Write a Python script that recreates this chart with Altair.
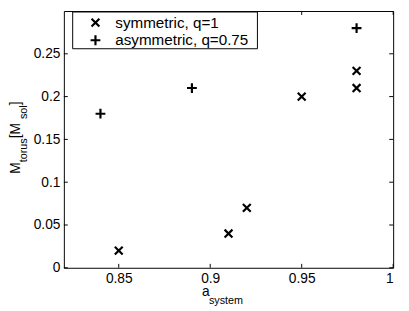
import altair as alt
import pandas as pd

# ---- data ----
series = ["symmetric, q=1", "asymmetric, q=0.75"]
sym_a = [0.85, 0.91, 0.92, 0.95, 0.98, 0.98]
sym_m = [0.02, 0.04, 0.07, 0.20, 0.23, 0.21]
asym_a = [0.84, 0.89, 0.98]
asym_m = [0.18, 0.21, 0.28]
x_ticks = [0.85, 0.9, 0.95, 1.0]
y_ticks = [0, 0.05, 0.1, 0.15, 0.2, 0.25]

W, H = 336, 262
FONT = "Liberation Sans"
TL = 4  # inward tick length

df = pd.DataFrame({
    "a": sym_a + asym_a,
    "m": sym_m + asym_m,
    "series": [series[0]] * len(sym_a) + [series[1]] * len(asym_a),
})
xt = pd.DataFrame({"a": x_ticks})
yt = pd.DataFrame({"m": y_ticks})

xs = alt.Scale(domain=[0.82, 1.0], nice=False, zero=False)
ys = alt.Scale(domain=[0, 0.3], nice=False, zero=False)
xa = alt.Axis(values=x_ticks, format="~g", title=None, labelPadding=4)
ya = alt.Axis(values=y_ticks, format="~g", title=None, labelPadding=4)

X_PATH = "M-0.8,-0.8L0.8,0.8M-0.8,0.8L0.8,-0.8"
P_PATH = "M-1,0L1,0M0,-1L0,1"

# legend frame (drawn under the legend entries)
legend_box = alt.Chart(pd.DataFrame({"k": [0]})).mark_rect(
    fill="white", stroke="black", strokeWidth=1
).encode(x=alt.value(9), x2=alt.value(197.5), y=alt.value(1), y2=alt.value(38.5))

points = alt.Chart(df).mark_point(
    filled=False, color="black", strokeWidth=2.2, size=100, opacity=1
).encode(
    x=alt.X("a:Q", scale=xs, axis=xa),
    y=alt.Y("m:Q", scale=ys, axis=ya),
    shape=alt.Shape("series:N", scale=alt.Scale(domain=series, range=[X_PATH, P_PATH]),
                    legend=alt.Legend(title=None, orient="none", legendX=9, legendY=0)),
)

tick_bottom = alt.Chart(xt).mark_rule(color="black", strokeWidth=1).encode(
    x=alt.X("a:Q", scale=xs, axis=xa), y=alt.value(H), y2=alt.value(H - TL))
tick_top = alt.Chart(xt).mark_rule(color="black", strokeWidth=1).encode(
    x=alt.X("a:Q", scale=xs, axis=xa), y=alt.value(0), y2=alt.value(TL))
tick_left = alt.Chart(yt).mark_rule(color="black", strokeWidth=1).encode(
    y=alt.Y("m:Q", scale=ys, axis=ya), x=alt.value(0), x2=alt.value(TL))
tick_right = alt.Chart(yt).mark_rule(color="black", strokeWidth=1).encode(
    y=alt.Y("m:Q", scale=ys, axis=ya), x=alt.value(W), x2=alt.value(W - TL))


def label(txt, x, y, size, angle=0):
    kw = dict(text=txt, font=FONT, fontSize=size, align="left",
              baseline="alphabetic", color="black")
    if angle:
        kw["angle"] = angle
    return alt.Chart(pd.DataFrame({"k": [0]})).mark_text(**kw).encode(
        x=alt.value(x), y=alt.value(y))


titles = [
    label("a", 141, 291, 14),
    label("system", 148, 299, 11),
    label("M", -45, 166, 14, 270),
    label("torus", -38, 154.3, 11, 270),
    label(" [M", -45, 129.8, 14, 270),
    label("sol", -38, 110.3, 11, 270),
    label("]", -45, 96.2, 14, 270),
]

chart = alt.layer(
    tick_bottom, tick_top, tick_left, tick_right, points, legend_box, *titles
).properties(
    width=W, height=H,
    autosize=alt.AutoSizeParams(type="none"),
    padding={"left": 57, "top": 0, "right": 8, "bottom": 40},
    background="white",
).configure_view(
    stroke="black", strokeWidth=1
).configure_axis(
    domain=False, ticks=False, grid=False,
    labelFont=FONT, labelFontSize=14, labelColor="black",
).configure_legend(
    strokeColor="transparent", cornerRadius=0,
    padding=3, rowPadding=0, clipHeight=17.7, symbolSize=100, symbolStrokeWidth=2.2,
    symbolStrokeColor="black", symbolFillColor="transparent",
    symbolOffset=12.5, labelOffset=12.5,
    labelFont=FONT, labelFontSize=15.5, labelColor="black",
)

chart.save("out.html", embed_options={"renderer": "svg", "actions": False})
